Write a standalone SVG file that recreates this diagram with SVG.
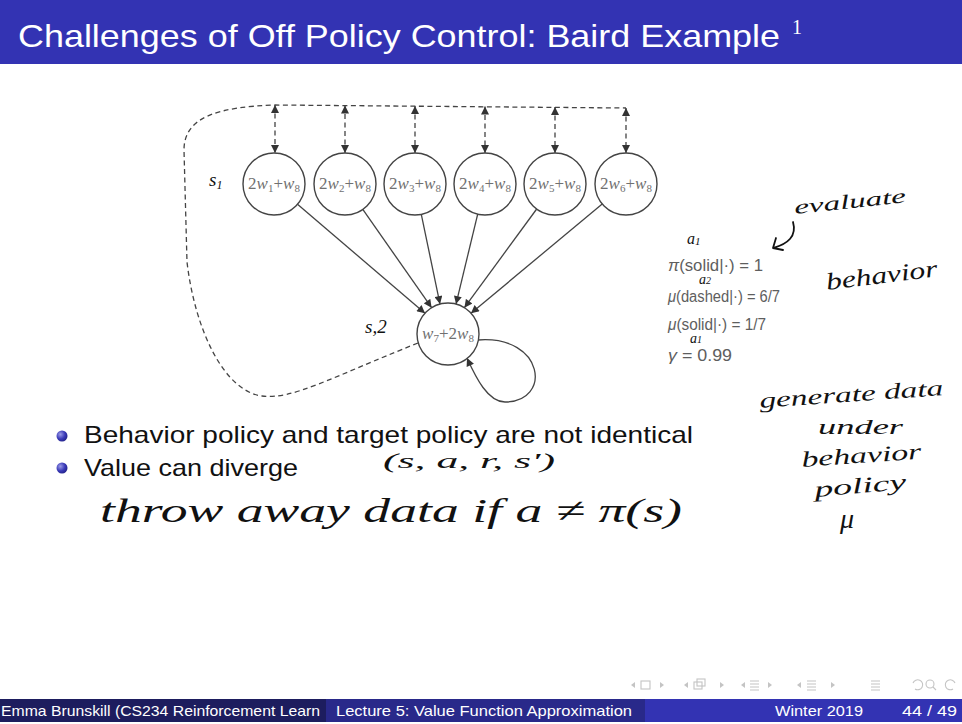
<svg xmlns="http://www.w3.org/2000/svg" width="962" height="724" viewBox="0 0 962 724">
<defs>
<style>
.node{fill:#fff;stroke:#444;stroke-width:1.4}
.lbl{font-family:"Liberation Serif",serif;font-size:17px;fill:#707070;text-anchor:middle}
.it{font-style:italic}
.edge{fill:none;stroke:#444;stroke-width:1.3}
.dash{fill:none;stroke:#444;stroke-width:1.3;stroke-dasharray:5 3.5}
.math{font-family:"Liberation Sans",sans-serif;font-size:16px;fill:#5e5e5e}
.hw{font-family:"Liberation Serif",serif;font-style:italic;fill:#111}
.body{font-family:"Liberation Sans",sans-serif;font-size:24px;fill:#111}
.foot{font-family:"Liberation Sans",sans-serif;font-size:15px;fill:#fff}
.nav{fill:#c4c4c4;stroke:none}
.navs{fill:none;stroke:#c4c4c4;stroke-width:1.1}
</style>
<marker id="ah" viewBox="0 0 10 10" refX="10" refY="5" markerWidth="9" markerHeight="8" markerUnits="userSpaceOnUse" orient="auto-start-reverse">
<path d="M0,0 L10,5 L0,10 z" fill="#333"/>
</marker>
<radialGradient id="ball" cx="0.35" cy="0.35" r="0.7">
<stop offset="0" stop-color="#9a9ae6"/>
<stop offset="0.6" stop-color="#3a3ab8"/>
<stop offset="1" stop-color="#22228a"/>
</radialGradient>
</defs>
<rect x="0" y="0" width="962" height="724" fill="#fff"/>

<!-- title bar -->
<rect x="0" y="0" width="962" height="64" fill="#3333b3"/>
<text x="18" y="47" font-family="Liberation Sans, sans-serif" font-size="32" fill="#fff" textLength="762" lengthAdjust="spacingAndGlyphs">Challenges of Off Policy Control: Baird Example</text>
<text x="792" y="34" font-family="Liberation Serif, serif" font-size="20" fill="#fff">1</text>

<!-- connectors -->
<g id="connectors">
<path class="dash" d="M418,343 C330,378 292,400 262,396 C224,391 195,330 187,262 L184,150 C184,116 220,107 275,105 L626,108"/>
<line class="dash" x1="275" y1="105" x2="275" y2="153" marker-start="url(#ah)" marker-end="url(#ah)"/>
<line class="dash" x1="345" y1="105.5" x2="345" y2="153" marker-start="url(#ah)" marker-end="url(#ah)"/>
<line class="dash" x1="415" y1="106" x2="415" y2="153" marker-start="url(#ah)" marker-end="url(#ah)"/>
<line class="dash" x1="485" y1="106.5" x2="485" y2="153" marker-start="url(#ah)" marker-end="url(#ah)"/>
<line class="dash" x1="555" y1="107" x2="555" y2="153" marker-start="url(#ah)" marker-end="url(#ah)"/>
<line class="dash" x1="626" y1="108" x2="626" y2="153" marker-start="url(#ah)" marker-end="url(#ah)"/>
<line class="edge" x1="297.5" y1="204.2" x2="425" y2="313.3" marker-end="url(#ah)"/>
<line class="edge" x1="362.8" y1="209.4" x2="431.6" y2="307.7" marker-end="url(#ah)"/>
<line class="edge" x1="421.3" y1="214.3" x2="440" y2="304.1" marker-end="url(#ah)"/>
<line class="edge" x1="477.7" y1="214.1" x2="456" y2="304.1" marker-end="url(#ah)"/>
<line class="edge" x1="536.7" y1="209" x2="464.4" y2="307.7" marker-end="url(#ah)"/>
<line class="edge" x1="602.2" y1="203.9" x2="471" y2="313.3" marker-end="url(#ah)"/>
<path class="edge" d="M478,340 C545,335 552,402 505,402 C488,402 476,378 467,358" marker-end="url(#ah)"/>
</g>

<!-- nodes -->
<g id="n1"><circle class="node" cx="274" cy="184" r="31"/><text class="lbl" x="274" y="189">2<tspan class="it">w</tspan><tspan font-size="11" dy="3">1</tspan><tspan dy="-3">+</tspan><tspan class="it">w</tspan><tspan font-size="11" dy="3">8</tspan></text></g>
<g id="n2"><circle class="node" cx="345" cy="184" r="31"/><text class="lbl" x="345" y="189">2<tspan class="it">w</tspan><tspan font-size="11" dy="3">2</tspan><tspan dy="-3">+</tspan><tspan class="it">w</tspan><tspan font-size="11" dy="3">8</tspan></text></g>
<g id="n3"><circle class="node" cx="415" cy="184" r="31"/><text class="lbl" x="415" y="189">2<tspan class="it">w</tspan><tspan font-size="11" dy="3">3</tspan><tspan dy="-3">+</tspan><tspan class="it">w</tspan><tspan font-size="11" dy="3">8</tspan></text></g>
<g id="n4"><circle class="node" cx="485" cy="184" r="31"/><text class="lbl" x="485" y="189">2<tspan class="it">w</tspan><tspan font-size="11" dy="3">4</tspan><tspan dy="-3">+</tspan><tspan class="it">w</tspan><tspan font-size="11" dy="3">8</tspan></text></g>
<g id="n5"><circle class="node" cx="555" cy="184" r="31"/><text class="lbl" x="555" y="189">2<tspan class="it">w</tspan><tspan font-size="11" dy="3">5</tspan><tspan dy="-3">+</tspan><tspan class="it">w</tspan><tspan font-size="11" dy="3">8</tspan></text></g>
<g id="n6"><circle class="node" cx="626" cy="184" r="31"/><text class="lbl" x="626" y="189">2<tspan class="it">w</tspan><tspan font-size="11" dy="3">6</tspan><tspan dy="-3">+</tspan><tspan class="it">w</tspan><tspan font-size="11" dy="3">8</tspan></text></g>
<g id="n7"><circle class="node" cx="448" cy="334" r="31"/><text class="lbl" x="448" y="339"><tspan class="it">w</tspan><tspan font-size="11" dy="3">7</tspan><tspan dy="-3">+2</tspan><tspan class="it">w</tspan><tspan font-size="11" dy="3">8</tspan></text></g>

<!-- policy info -->
<g id="policy">
<text class="math" x="668" y="271" textLength="95" lengthAdjust="spacingAndGlyphs"><tspan font-style="italic">π</tspan>(solid|·) = 1</text>
<text class="math" x="668" y="302" textLength="112" lengthAdjust="spacingAndGlyphs"><tspan font-style="italic">μ</tspan>(dashed|·) = 6/7</text>
<text class="math" x="668" y="330" textLength="98" lengthAdjust="spacingAndGlyphs"><tspan font-style="italic">μ</tspan>(solid|·) = 1/7</text>
<text class="math" x="668" y="361" textLength="64" lengthAdjust="spacingAndGlyphs"><tspan font-style="italic">γ</tspan> = 0.99</text>
</g>

<!-- bullets -->
<circle cx="62" cy="436" r="5.5" fill="url(#ball)"/>
<circle cx="62" cy="468" r="5.5" fill="url(#ball)"/>
<text class="body" x="84" y="443" textLength="609" lengthAdjust="spacingAndGlyphs">Behavior policy and target policy are not identical</text>
<text class="body" x="84" y="476" textLength="214" lengthAdjust="spacingAndGlyphs">Value can diverge</text>

<!-- handwritten annotations -->
<g id="handwriting">
<text class="hw" x="209" y="186" font-size="19">s<tspan font-size="12" dy="3">1</tspan></text>
<text class="hw" x="365" y="333" font-size="19">s,2</text>
<text class="hw" x="687" y="244" font-size="16">a<tspan font-size="11" dy="1">1</tspan></text>
<text class="hw" x="699" y="284" font-size="14">a<tspan font-size="10">2</tspan></text>
<text class="hw" x="690" y="343" font-size="14">a<tspan font-size="10">1</tspan></text>
<text class="hw" x="795" y="214" font-size="20" transform="rotate(-6 795 214)" textLength="112" lengthAdjust="spacingAndGlyphs">evaluate</text>
<path d="M793,222 C797,236 788,244 773,248 M773,248 L776,238 M773,248 L783,250" fill="none" stroke="#111" stroke-width="1.8" stroke-linecap="round"/>
<text class="hw" x="827" y="290" font-size="24" transform="rotate(-7 827 290)" textLength="112" lengthAdjust="spacingAndGlyphs">behavior</text>
<text class="hw" x="760" y="408" font-size="22" transform="rotate(-4 760 408)" textLength="184" lengthAdjust="spacingAndGlyphs">generate data</text>
<text class="hw" x="818" y="434" font-size="22" textLength="85" lengthAdjust="spacingAndGlyphs">under</text>
<text class="hw" x="802" y="467" font-size="22" transform="rotate(-4 802 467)" textLength="120" lengthAdjust="spacingAndGlyphs">behavior</text>
<text class="hw" x="815" y="497" font-size="22" transform="rotate(-5 815 497)" textLength="92" lengthAdjust="spacingAndGlyphs">policy</text>
<text class="hw" x="840" y="528" font-size="28">μ</text>
<text class="hw" x="383" y="468" font-size="20" textLength="172" lengthAdjust="spacingAndGlyphs">(s, a, r, s')</text>
<text class="hw" x="100" y="522" font-size="34" textLength="582" lengthAdjust="spacingAndGlyphs">throw away data if a ≠ π(s)</text>
</g>

<!-- navigation icons -->
<g id="nav">
<path class="nav" d="M631,685 l4,-3 v6 z"/>
<rect class="navs" x="641" y="681" width="9" height="8"/>
<path class="nav" d="M664,685 l-4,-3 v6 z"/>
<path class="nav" d="M684,685 l4,-3 v6 z"/>
<rect class="navs" x="694" y="682" width="8" height="7"/>
<rect class="navs" x="697" y="679" width="8" height="7"/>
<path class="nav" d="M724,685 l-4,-3 v6 z"/>
<path class="nav" d="M741,685 l4,-3 v6 z"/>
<path class="navs" d="M750,681 h9 M750,684 h9 M750,687 h9 M750,690 h9"/>
<path class="nav" d="M772,685 l-4,-3 v6 z"/>
<path class="nav" d="M797,685 l4,-3 v6 z"/>
<path class="navs" d="M807,681 h9 M807,684 h9 M807,687 h9 M807,690 h9"/>
<path class="nav" d="M835,685 l-4,-3 v6 z"/>
<path class="navs" d="M871,681 h9 M871,684 h9 M871,687 h9 M871,690 h9"/>
<path class="navs" d="M913,683 a5,5 0 1 1 2,6"/>
<circle class="navs" cx="930" cy="684" r="4"/>
<path class="navs" d="M933,687 l3,3"/>
<path class="navs" d="M955,683 a5,5 0 1 0 -2,6"/>
</g>

<!-- footer -->
<rect x="0" y="699" width="326" height="23" fill="#1d1d5e"/>
<rect x="326" y="699" width="319" height="23" fill="#29298a"/>
<rect x="645" y="699" width="317" height="23" fill="#3333b3"/>
<text class="foot" x="1" y="716" textLength="319" lengthAdjust="spacingAndGlyphs">Emma Brunskill (CS234 Reinforcement Learn</text>
<text class="foot" x="336" y="716" textLength="296" lengthAdjust="spacingAndGlyphs">Lecture 5: Value Function Approximation</text>
<text class="foot" x="775" y="716" textLength="88" lengthAdjust="spacingAndGlyphs">Winter 2019</text>
<text class="foot" x="902" y="716" textLength="55" lengthAdjust="spacingAndGlyphs">44 / 49</text>
</svg>
